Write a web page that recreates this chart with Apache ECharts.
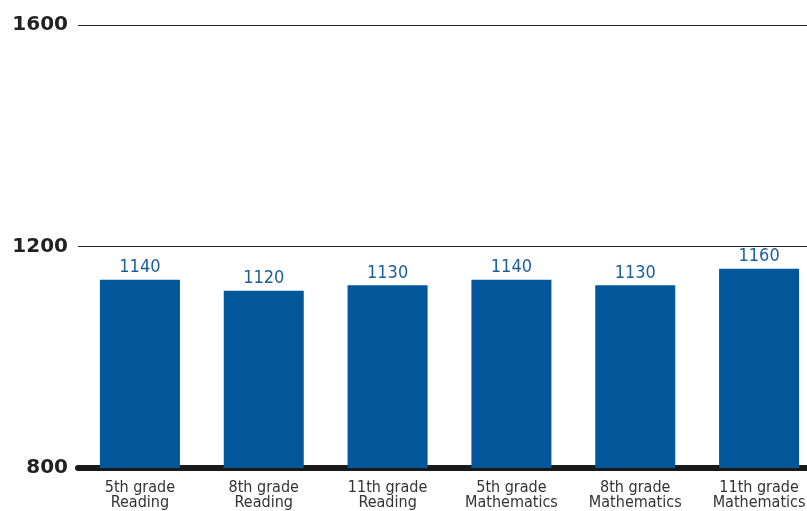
<!DOCTYPE html>
<html>
<head>
<meta charset="utf-8">
<script src="https://cdn.jsdelivr.net/npm/echarts@6/dist/echarts.min.js"></script>
<style>
  html, body { margin: 0; padding: 0; background: #fff; }
  #chart { width: 807px; height: 511px; }
</style>
</head>
<body>
<div id="chart"></div>
<script>
// categories and scores
const categories = [
  '5th grade\nReading', '8th grade\nReading', '11th grade\nReading',
  '5th grade\nMathematics', '8th grade\nMathematics', '11th grade\nMathematics'
]
const scores = [1140, 1120, 1130, 1140, 1130, 1160]
const yTicks = [800, 1200, 1600]

const chart = echarts.init(document.getElementById('chart'))
chart.setOption({
  animation: false,
  // the last category runs past the right edge in the original, so the grid is wider than the canvas
  grid: { left: 78, width: 743, top: 25, bottom: 43, containLabel: false, outerBoundsMode: 'none' },
  xAxis: {
    type: 'category',
    data: categories,
    axisLine: { show: true, lineStyle: { color: '#1a1a1a', width: 6 } },
    axisTick: { show: false },
    axisLabel: {
      interval: 0,
      margin: 12,
      color: '#333',
      fontSize: 16,
      lineHeight: 15,
      fontFamily: 'DejaVu Sans Condensed'
    }
  },
  yAxis: {
    type: 'value',
    min: 800,
    max: 1600,
    interval: 400,
    axisLine: { show: false },
    axisTick: { show: false },
    axisLabel: {
      margin: 10,
      color: '#222',
      fontSize: 20,
      fontWeight: 'bold',
      fontFamily: 'DejaVu Sans',
      formatter: v => String(v),
      customValues: yTicks
    },
    splitLine: { lineStyle: { color: '#222', width: 1 } }
  },
  series: [{
    type: 'bar',
    data: scores,
    barWidth: 80,
    itemStyle: { color: '#02569a' },
    label: {
      show: true,
      position: 'top',
      distance: 3,
      color: '#1b5e9e',
      fontSize: 18,
      fontFamily: 'DejaVu Sans Condensed'
    }
  }]
})
</script>
</body>
</html>
